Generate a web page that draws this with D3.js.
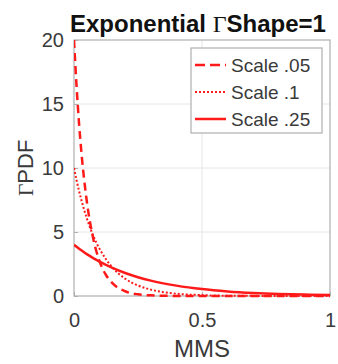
<!DOCTYPE html>
<html>
<head>
<meta charset="utf-8">
<script src="https://cdn.jsdelivr.net/npm/d3@7"></script>
<style>
  body { margin: 0; background: #fff; }
  svg { display: block; font-family: "Liberation Sans", Arial, sans-serif; }
</style>
</head>
<body>
<div id="chart"></div>
<script>
// values
var mmsX = [0, 0.01, 0.02, 0.03, 0.05, 0.075, 0.1, 0.125, 0.15, 0.2, 0.25, 0.3, 0.4, 0.5, 0.6, 0.7, 0.8, 0.9, 1];
var scale05 = [20, 16.4, 13.4, 11.0, 7.4, 4.5, 2.7, 1.64, 1.0, 0.37, 0.13, 0.05, 0.007, 0, 0, 0, 0, 0, 0];
var scale1 = [10, 9.05, 8.19, 7.41, 6.07, 4.72, 3.68, 2.87, 2.23, 1.35, 0.82, 0.5, 0.18, 0.07, 0.02, 0.01, 0, 0, 0];
var scale25 = [4, 3.84, 3.69, 3.55, 3.27, 2.96, 2.68, 2.43, 2.2, 1.8, 1.47, 1.2, 0.81, 0.54, 0.36, 0.24, 0.16, 0.11, 0.07];
var seriesNames = ['Scale .05', 'Scale .1', 'Scale .25'];
var xTicks = [0, 0.5, 1];
var yTicks = [0, 5, 10, 15, 20];

var W = 338, H = 364;
var margin = {left: 74, right: 8, top: 40, bottom: 68};

var svg = d3.select('#chart').append('svg')
  .attr('width', W).attr('height', H);

var x = d3.scaleLinear().domain([0, 1]).range([margin.left, W - margin.right]);
var y = d3.scaleLinear().domain([0, 20]).range([H - margin.bottom, margin.top]);

// grid
svg.append('g').selectAll('line.gx')
  .data(xTicks.slice(1, -1)).enter().append('line')
  .attr('x1', function(d) { return x(d); }).attr('x2', function(d) { return x(d); })
  .attr('y1', y(0)).attr('y2', y(20))
  .attr('stroke', '#e6e6e6').attr('stroke-width', 1);
svg.append('g').selectAll('line.gy')
  .data(yTicks.slice(1, -1)).enter().append('line')
  .attr('x1', x(0)).attr('x2', x(1))
  .attr('y1', function(d) { return y(d); }).attr('y2', function(d) { return y(d); })
  .attr('stroke', '#e6e6e6').attr('stroke-width', 1);

// axes
var xAxis = d3.axisBottom(x).tickValues(xTicks).tickSizeInner(-4).tickSizeOuter(0)
  .tickPadding(17).tickFormat(function(d) { return d === 0 ? '0' : d === 1 ? '1' : d3.format('.1f')(d); });
var yAxis = d3.axisLeft(y).tickValues(yTicks).tickSizeInner(-4).tickSizeOuter(0)
  .tickPadding(10).tickFormat(d3.format('d'));

var gx = svg.append('g').attr('transform', 'translate(0,' + y(0) + ')').call(xAxis);
var gy = svg.append('g').attr('transform', 'translate(' + x(0) + ',0)').call(yAxis);
[gx, gy].forEach(function(g) {
  g.select('.domain').remove();
  g.selectAll('line').attr('stroke', '#b0b0b0');
  g.selectAll('text').attr('fill', '#3a3a3a').style('font-size', '20px');
});
gx.selectAll('text').attr('dy', '0.71em');

// box
svg.append('rect')
  .attr('x', x(0)).attr('y', y(20))
  .attr('width', x(1) - x(0)).attr('height', y(0) - y(20))
  .attr('fill', 'none').attr('stroke', '#b0b0b0').attr('stroke-width', 1.2);

// lines
svg.append('defs').append('clipPath').attr('id', 'clip')
  .append('rect').attr('x', x(0)).attr('y', y(20) - 2)
  .attr('width', x(1) - x(0) + 2).attr('height', y(0) - y(20) + 4);

var line = d3.line()
  .x(function(d) { return x(d[0]); })
  .y(function(d) { return y(d[1]); })
  .curve(d3.curveMonotoneX);

var dashes = ['8,5', '2,2', null];
var allSeries = [scale05, scale1, scale25];
var plot = svg.append('g').attr('clip-path', 'url(#clip)');
allSeries.forEach(function(vals, i) {
  plot.append('path')
    .datum(d3.zip(mmsX, vals))
    .attr('d', line)
    .attr('fill', 'none')
    .attr('stroke', '#ff1a1a')
    .attr('stroke-width', i === 1 ? 2 : 2.5)
    .attr('stroke-dasharray', dashes[i]);
});

// legend
var lg = svg.append('g');
lg.append('rect').attr('x', 191).attr('y', 48).attr('width', 131).attr('height', 85)
  .attr('fill', '#fff').attr('stroke', '#b0b0b0').attr('stroke-width', 1.2);
seriesNames.forEach(function(name, i) {
  var ly = 65 + i * 27;
  lg.append('line').attr('x1', 195).attr('x2', 226).attr('y1', ly).attr('y2', ly)
    .attr('stroke', '#ff1a1a').attr('stroke-width', i === 1 ? 2 : 2.5)
    .attr('stroke-dasharray', i === 0 ? '10,5' : dashes[i]);
  lg.append('text').attr('x', 231).attr('y', ly).attr('dy', '0.35em')
    .attr('fill', '#3a3a3a').style('font-size', '19px').text(name);
});

// title
var title = svg.append('text').attr('x', 198).attr('y', 32)
  .attr('text-anchor', 'middle').attr('fill', '#111')
  .style('font-size', '24px').style('font-weight', 'bold');
title.append('tspan').text('Exponential ');
title.append('tspan').style('font-family', '"Liberation Serif", serif').style('font-weight', 'normal').text('Γ');
title.append('tspan').text('Shape=1');

// axis labels
svg.append('text').attr('x', x(0.5)).attr('y', 357)
  .attr('text-anchor', 'middle').attr('fill', '#3a3a3a')
  .style('font-size', '24px').text('MMS');

var yl = svg.append('text')
  .attr('transform', 'translate(33,' + y(10) + ') rotate(-90)')
  .attr('text-anchor', 'middle').attr('fill', '#3a3a3a')
  .style('font-size', '22px');
yl.append('tspan').style('font-family', '"Liberation Serif", serif').text('Γ');
yl.append('tspan').text('PDF');
</script>
</body>
</html>
